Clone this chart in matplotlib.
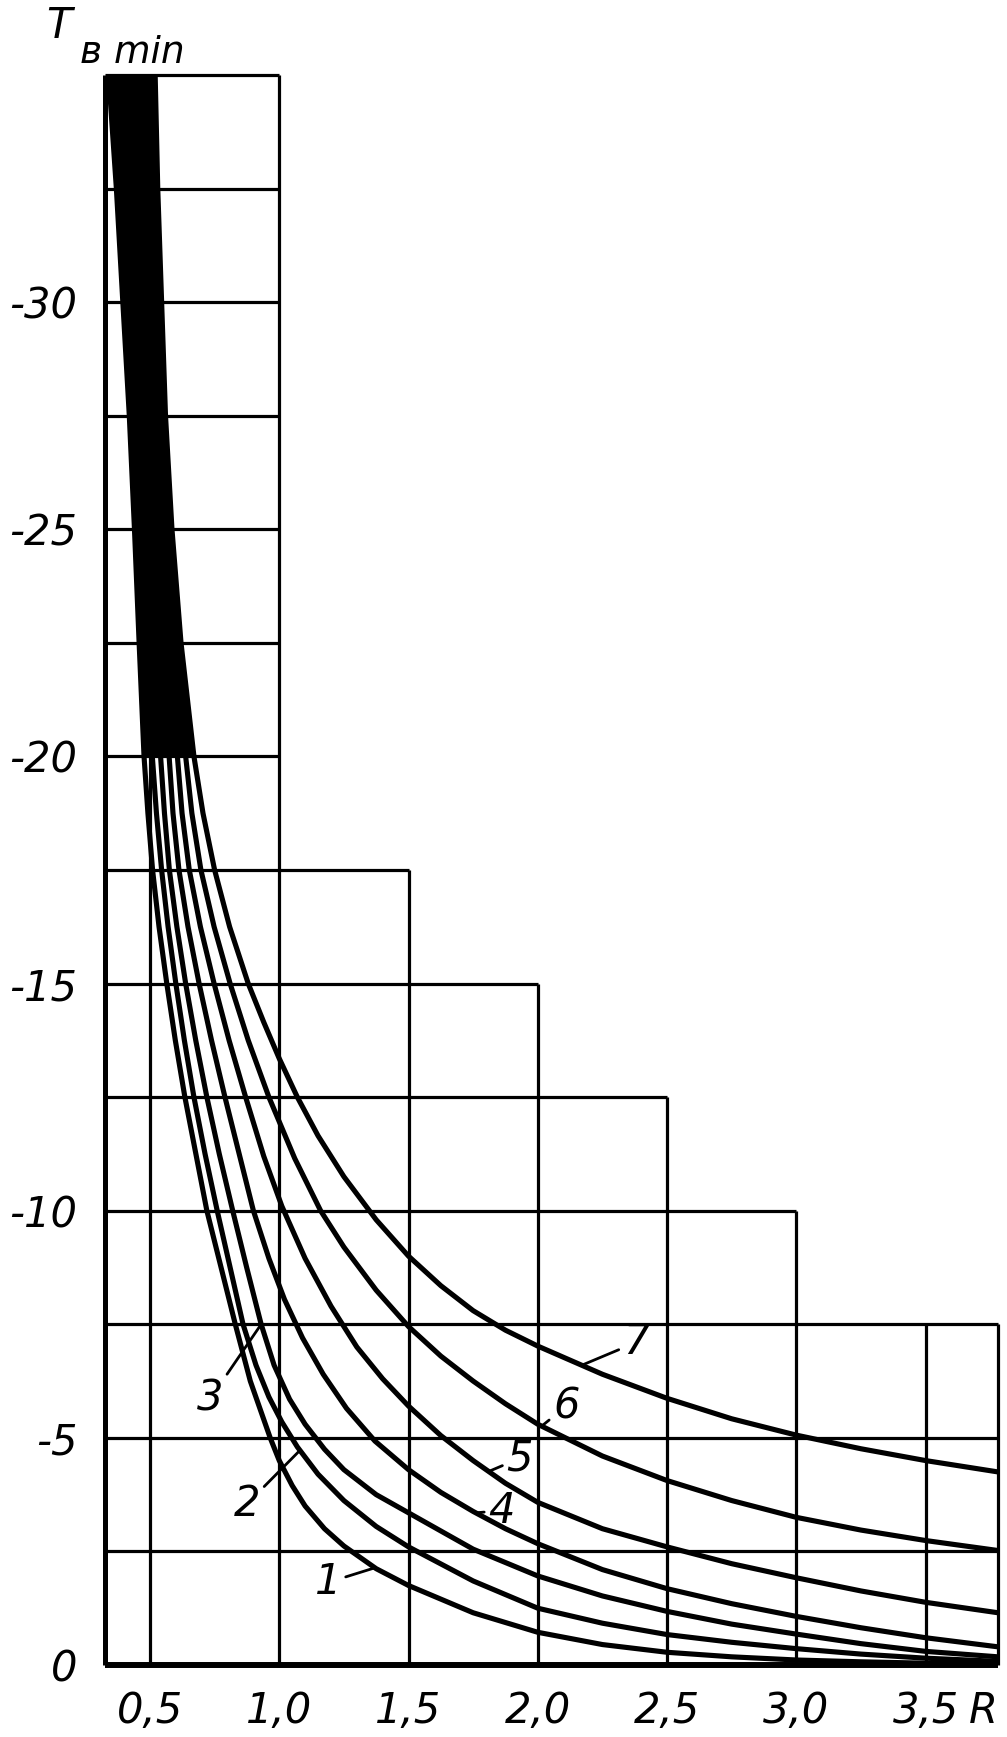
import numpy as np
import matplotlib
matplotlib.use("Agg")
import matplotlib.pyplot as plt

# Nomogram: T_в min versus R, curves 1..7
r_min, r_max = 0.326, 3.78

c1_R = [0.34, 0.37, 0.395, 0.42, 0.44, 0.458, 0.477, 0.492, 0.51, 0.535, 0.565, 0.598, 0.635, 0.72,
        0.83, 0.888, 0.965, 1.0, 1.05, 1.1, 1.175, 1.25, 1.375, 1.5, 1.75, 2.0, 2.25, 2.5, 2.75, 3.0,
        3.25, 3.5, 3.78]
c1_T = [-35, -32.5, -30, -27.5, -25, -22.5, -20, -18.75, -17.5, -16.25, -15, -13.75, -12.5, -10,
        -7.5, -6.25, -5, -4.5, -3.95, -3.5, -3.0, -2.62, -2.12, -1.75, -1.15, -0.72, -0.45, -0.28, -0.18, -0.11,
        -0.07, -0.04, -0.02]

c2_R = [0.37, 0.42, 0.464, 0.509, 0.525, 0.545, 0.570, 0.60, 0.633, 0.67, 0.713, 0.76, 0.86, 0.91,
        0.96, 1.01, 1.07, 1.15, 1.25, 1.375, 1.5, 1.75, 2.0, 2.25, 2.5, 2.75, 3.0, 3.25, 3.5, 3.78]
c2_T = [-35, -30, -25, -20, -18.75, -17.5, -16.25, -15, -13.75, -12.5, -11.25, -10, -7.5, -6.6,
        -5.9, -5.35, -4.8, -4.2, -3.62, -3.05, -2.6, -1.85, -1.25, -0.92, -0.67, -0.5, -0.36, -0.24, -0.15, -0.08]

c3_R = [0.40, 0.445, 0.488, 0.541, 0.556, 0.575, 0.604, 0.638, 0.677, 0.72, 0.768, 0.82, 0.874, 0.93,
        0.98, 1.04, 1.1, 1.175, 1.25, 1.375, 1.5, 1.75, 2.0, 2.25, 2.5, 2.75, 3.0, 3.25, 3.5, 3.78]
c3_T = [-35, -30, -25, -20, -18.75, -17.5, -16.25, -15, -13.75, -12.5, -11.25, -10, -8.75, -7.5,
        -6.6, -5.85, -5.3, -4.75, -4.3, -3.75, -3.35, -2.55, -1.96, -1.52, -1.18, -0.9, -0.68, -0.47, -0.3, -0.18]

c4_R = [0.43, 0.47, 0.513, 0.574, 0.589, 0.612, 0.647, 0.69, 0.738, 0.79, 0.845, 0.90, 0.96, 1.02,
        1.09, 1.17, 1.26, 1.37, 1.5, 1.625, 1.75, 1.875, 2.0, 2.25, 2.5, 2.75, 3.0, 3.25, 3.5, 3.78]
c4_T = [-35, -30, -25, -20, -18.75, -17.5, -16.25, -15, -13.75, -12.5, -11.25, -10, -8.95, -8.05,
        -7.2, -6.4, -5.65, -4.93, -4.3, -3.8, -3.38, -3.0, -2.67, -2.1, -1.68, -1.35, -1.07, -0.82, -0.6, -0.4]

c5_R = [0.46, 0.495, 0.537, 0.606, 0.624, 0.652, 0.695, 0.748, 0.806, 0.87, 0.94, 1.01, 1.1, 1.2,
        1.3, 1.4, 1.5, 1.625, 1.75, 1.875, 2.0, 2.25, 2.5, 2.75, 3.0, 3.25, 3.5, 3.78]
c5_T = [-35, -30, -25, -20, -18.75, -17.5, -16.25, -15, -13.75, -12.5, -11.2, -10.1, -8.95, -7.9,
        -7.0, -6.3, -5.7, -5.05, -4.5, -4.0, -3.58, -3.0, -2.6, -2.23, -1.92, -1.63, -1.38, -1.15]

c6_R = [0.49, 0.52, 0.561, 0.638, 0.662, 0.697, 0.748, 0.81, 0.88, 0.96, 1.06, 1.16, 1.25, 1.375,
        1.5, 1.625, 1.75, 1.875, 2.0, 2.25, 2.5, 2.75, 3.0, 3.25, 3.5, 3.78]
c6_T = [-35, -30, -25, -20, -18.75, -17.5, -16.25, -15, -13.75, -12.5, -11.15, -10, -9.2, -8.25,
        -7.45, -6.8, -6.25, -5.75, -5.3, -4.6, -4.06, -3.62, -3.25, -2.97, -2.74, -2.52]

c7_R = [0.52, 0.53, 0.545, 0.56, 0.585, 0.62, 0.67, 0.705, 0.75, 0.808, 0.88, 0.94, 1.0, 1.07, 1.15,
        1.25, 1.375, 1.5, 1.625, 1.75, 1.875, 2.0, 2.25, 2.5, 2.75, 3.0, 3.25, 3.5, 3.78]
c7_T = [-35, -32.5, -30, -27.5, -25, -22.5, -20, -18.75, -17.5, -16.25, -15, -14.15, -13.35, -12.5, -11.65,
        -10.75, -9.8, -9.0, -8.35, -7.8, -7.37, -7.02, -6.4, -5.87, -5.42, -5.06, -4.76, -4.5, -4.25]

curves_R = [c1_R, c2_R, c3_R, c4_R, c5_R, c6_R, c7_R]
curves_T = [c1_T, c2_T, c3_T, c4_T, c5_T, c6_T, c7_T]
curve_names = ["1", "2", "3", "4", "5", "6", "7"]

# stepped grid: how far each horizontal line runs, how high each vertical line goes
h_levels = [0, -2.5, -5, -7.5, -10, -12.5, -15, -17.5, -20, -22.5, -25, -27.5, -30, -32.5, -35]
h_right = [3.78, 3.78, 3.78, 3.78, 3.0, 2.5, 2.0, 1.5, 1.0, 1.0, 1.0, 1.0, 1.0, 1.0, 1.0]
v_pos = [0.5, 1.0, 1.5, 2.0, 2.5, 3.0, 3.5, 3.78]
v_top = [-35, -35, -17.5, -15, -12.5, -10, -7.5, -7.5]

x_ticks = [0.5, 1.0, 1.5, 2.0, 2.5, 3.0, 3.5]
x_tick_labels = ["0,5", "1,0", "1,5", "2,0", "2,5", "3,0", "3,5"]
y_ticks = [0, -5, -10, -15, -20, -25, -30]
y_tick_labels = ["0", "-5", "-10", "-15", "-20", "-25", "-30"]

W, H = 1007, 1737
fig = plt.figure(figsize=(W / 100, H / 100), dpi=100)
ax = fig.add_axes([105 / W, 72 / H, 893 / W, 1590 / H])
ax.set_xlim(r_min, r_max)
ax.set_ylim(0, -35)
for s in ax.spines.values():
    s.set_visible(False)

font = dict(family="DejaVu Sans", style="italic", size=30)

# grid
ax.hlines(h_levels[1:], r_min, h_right[1:], color="k", lw=2.3, clip_on=False)
ax.vlines(v_pos, 0, v_top, color="k", lw=2.3, clip_on=False)
ax.vlines(r_min, 0, -35, color="k", lw=3.6, clip_on=False)
ax.hlines(0, r_min, r_max, color="k", lw=4.3, clip_on=False)

# dark bundle where all curves merge
n_top = sum(1 for t in c1_T if t <= -20)
ax.fill_betweenx(c1_T[:n_top], c1_R[:n_top], c7_R[:n_top], color="k", lw=0)

for R, T in zip(curves_R, curves_T):
    ax.plot(R, T, color="k", lw=3.7, solid_joinstyle="round", solid_capstyle="butt")

# curve numbers with short leader ticks
label_pos = {"1": (1.19, -1.82), "2": (0.876, -3.55), "3": (0.733, -5.86), "4": (1.86, -3.4),
             "5": (1.93, -4.55), "6": (2.11, -5.7), "7": (2.38, -7.1)}
tick_r = {"1": 1.37, "2": 1.08, "3": 0.93, "4": 1.76, "5": 1.81, "6": 2.015, "7": 2.17}
for name, R, T in zip(curve_names, curves_R, curves_T):
    xr = tick_r[name]
    yt = np.interp(xr, R, T)
    ax.annotate(name, xy=(xr, yt), xytext=label_pos[name], ha="center", va="center",
                arrowprops=dict(arrowstyle="-", lw=2.0, color="k", shrinkA=1, shrinkB=0),
                **font)

ax.set_xticks(x_ticks)
ax.set_xticklabels(x_tick_labels, **font)
ax.set_yticks(y_ticks)
ax.set_yticklabels(y_tick_labels, **font)
ax.tick_params(axis="both", length=0)
ax.tick_params(axis="x", pad=18)
ax.tick_params(axis="y", pad=20)

ax.text(r_max, -0.029, "R", transform=ax.get_xaxis_transform(), ha="right", va="center", **font)

fig.text(46 / W, 1 - 38 / H, "T", ha="left", va="baseline", **font)
fig.text(80 / W, 1 - 63 / H, "в min", ha="left", va="baseline", family="DejaVu Sans",
         style="italic", size=27)

fig.savefig("out.png", dpi=100)
